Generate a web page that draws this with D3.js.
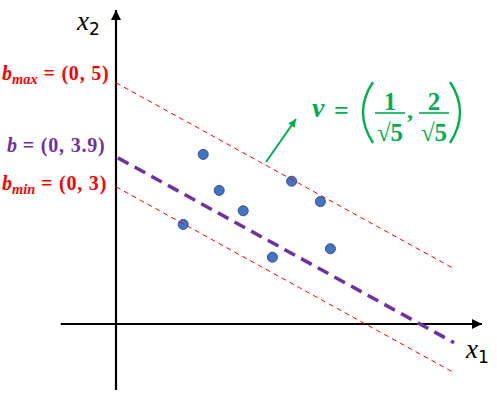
<!DOCTYPE html>
<html><head><meta charset="utf-8">
<script src="https://cdn.jsdelivr.net/npm/d3@7"></script>
<style>html,body{margin:0;padding:0;background:#fff;}svg{display:block;}</style>
</head><body>
<svg id="c" width="497" height="403"></svg>
<script>
// Data (chart units)
const pointsX = [2.18, 2.58, 3.18, 1.68, 4.39, 5.11, 5.36, 3.91];
const pointsY = [4.24, 3.34, 2.83, 2.49, 3.57, 3.06, 1.88, 1.67];
const lineNames = ["bmax", "b", "bmin"];
const lineIntercepts = [6.03, 4.18, 3.43];
const lineSlope = -0.55;
const lineStartX = [0.0, 0.05, 0.0];
const lineEndX = [8.48, 8.45, 8.4];
const axisXRange = [-1.38, 9.15];
const axisYRange = [-1.65, 7.85];

const svg = d3.select("#c");
const x = d3.scaleLinear().domain([0, 10]).range([116, 516]);
const y = d3.scaleLinear().domain([0, 10]).range([324, -76]);

const RED = "#FF0000", PURPLE = "#7030A0", GREEN = "#00B050";

const defs = svg.append("defs");
function marker(id, color, w, h) {
  defs.append("marker").attr("id", id).attr("viewBox", "0 0 10 10")
    .attr("refX", 10).attr("refY", 5).attr("markerWidth", w).attr("markerHeight", h)
    .attr("markerUnits", "userSpaceOnUse").attr("orient", "auto")
    .append("path").attr("d", "M0,0 L10,5 L0,10 Z").attr("fill", color);
}
marker("ab", "#000", 11, 10);
marker("ag", GREEN, 9, 8);

// axes
svg.append("line").attr("x1", x(axisXRange[0])).attr("x2", x(axisXRange[1]))
  .attr("y1", y(0)).attr("y2", y(0)).attr("stroke", "#000").attr("stroke-width", 2.2)
  .attr("marker-end", "url(#ab)");
svg.append("line").attr("x1", x(0)).attr("x2", x(0))
  .attr("y1", y(axisYRange[0])).attr("y2", y(axisYRange[1])).attr("stroke", "#000").attr("stroke-width", 2.2)
  .attr("marker-end", "url(#ab)");

// points
svg.append("g").selectAll("circle").data(pointsX.map((v, i) => [v, pointsY[i]]))
  .join("circle").attr("cx", d => x(d[0])).attr("cy", d => y(d[1])).attr("r", 5)
  .attr("fill", "#4472C4").attr("stroke", "#2F528F").attr("stroke-width", 1);

// lines
const styles = {
  bmax: {c: RED, w: 1, dash: "5,4"},
  b: {c: PURPLE, w: 3.5, dash: "12,7"},
  bmin: {c: RED, w: 1, dash: "5,4"}
};
lineNames.forEach((n, i) => {
  const s = styles[n];
  const x0 = lineStartX[i], x1 = lineEndX[i];
  svg.append("line")
    .attr("x1", x(x0)).attr("y1", y(lineIntercepts[i] + lineSlope * x0))
    .attr("x2", x(x1)).attr("y2", y(lineIntercepts[i] + lineSlope * x1))
    .attr("stroke", s.c).attr("stroke-width", s.w).attr("stroke-dasharray", s.dash);
});

// green arrow
svg.append("line").attr("x1", 266).attr("y1", 162).attr("x2", 296).attr("y2", 119)
  .attr("stroke", GREEN).attr("stroke-width", 2).attr("marker-end", "url(#ag)");

const MF = "'Liberation Serif', 'DejaVu Serif', serif";
// axis labels
function axLabel(px, py, sub) {
  const t = svg.append("text").attr("x", px).attr("y", py).attr("font-family", "'Liberation Serif', serif")
    .attr("font-size", 27).attr("fill", "#000");
  t.append("tspan").attr("font-style", "italic").text("x");
  t.append("tspan").attr("font-size", 17).attr("dy", 5).attr("font-family", "'DejaVu Sans', sans-serif").text(sub);
}
axLabel(77, 30, "2");
axLabel(466, 358, "1");

// b labels
function bLabel(px, py, color, sub, rest, fs) {
  const t = svg.append("text").attr("x", px).attr("y", py).attr("font-family", MF)
    .attr("font-weight", "bold").attr("font-size", fs).attr("fill", color);
  t.append("tspan").attr("font-style", "italic").text("b");
  if (sub) t.append("tspan").attr("font-style", "italic").attr("font-size", fs * 0.72).attr("dy", 4).text(sub);
  t.append("tspan").attr("dy", sub ? -4 : 0).attr("letter-spacing", 0.8).text(rest);
}
bLabel(2, 80, RED, "max", " = (0, 5)", 20);
bLabel(7, 152, PURPLE, null, " = (0, 3.9)", 20);
bLabel(2, 190, RED, "min", " = (0, 3)", 20);

// v formula
const g = svg.append("g").attr("fill", GREEN).attr("font-family", MF).attr("font-weight", "bold");
g.append("text").attr("x", 312).attr("y", 117).attr("font-size", 28).attr("font-style", "italic").text("v");
g.append("text").attr("x", 334).attr("y", 119).attr("font-size", 26).text("=");
svg.append("path").attr("d", "M373,82 Q353,112 373,143").attr("fill", "none").attr("stroke", GREEN).attr("stroke-width", 2.4);
svg.append("path").attr("d", "M450,82 Q470,112 450,143").attr("fill", "none").attr("stroke", GREEN).attr("stroke-width", 2.4);
[[390, "1"], [434, "2"]].forEach(([cx, num]) => {
  g.append("text").attr("x", cx).attr("y", 110).attr("text-anchor", "middle").attr("font-size", 25).text(num);
  svg.append("line").attr("x1", cx - 15).attr("x2", cx + 15).attr("y1", 113).attr("y2", 113)
    .attr("stroke", GREEN).attr("stroke-width", 1.6);
  g.append("text").attr("x", cx).attr("y", 141).attr("text-anchor", "middle").attr("font-size", 25).text("√5");
});
g.append("text").attr("x", 407).attr("y", 118).attr("font-size", 24).text(",");
</script>
</body></html>
